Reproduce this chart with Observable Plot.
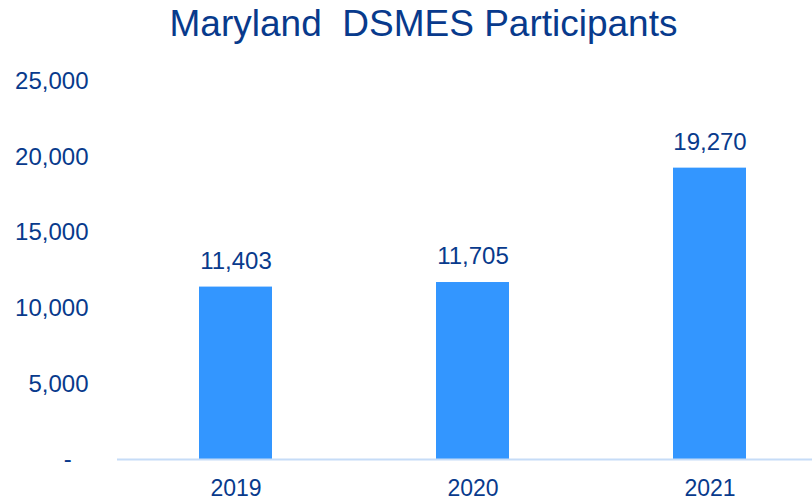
<!DOCTYPE html>
<html>
<head>
<meta charset="utf-8">
<script src="https://cdn.jsdelivr.net/npm/d3@7"></script>
<script src="https://cdn.jsdelivr.net/npm/@observablehq/plot@0.6"></script>
<style>
  html, body { margin: 0; padding: 0; background: #fff; }
  #wrap { width: 812px; height: 500px; position: relative; overflow: hidden; font-family: "Liberation Sans", Arial, sans-serif; }
  #title { position: absolute; left: 0; top: 1px; width: 847px; text-align: center; font-size: 37px; color: #083a8c; line-height: 46px; white-space: pre; }
  #chart { position: absolute; left: 0; top: 58px; }
</style>
</head>
<body>
<div id="wrap">
  <div id="title">Maryland  DSMES Participants</div>
  <div id="chart"></div>
</div>
<script>
const years = ["2019", "2020", "2021"];
const participants = [11403, 11705, 19270];
const yTicks = [0, 5000, 10000, 15000, 20000, 25000];

const data = years.map((y, i) => ({year: y, value: participants[i]}));
const fmt = d3.format(",");
const textColor = "#083a8c";

const plot = Plot.plot({
  width: 812,
  height: 442,
  marginTop: 23,
  marginBottom: 41,
  marginLeft: 117,
  marginRight: 0,
  style: {fontFamily: "'Liberation Sans', Arial, sans-serif", color: textColor, background: "transparent"},
  x: {domain: years, range: [117, 828], paddingInner: 0.69, paddingOuter: 0.345, label: null},
  y: {domain: [0, 25000], label: null},
  marks: [
    Plot.barY(data, {x: "year", y: "value", fill: "#3396ff"}),
    Plot.ruleY([0], {stroke: "#c6dcf7", strokeWidth: 2}),
    Plot.text(data, {x: "year", y: "value", text: d => fmt(d.value), dy: -26, fill: textColor, fontSize: 24}),
    Plot.axisY({ticks: yTicks, tickSize: 0, tickPadding: 29, fontSize: 24, fill: textColor,
      tickFormat: d => d === 0 ? "-\u2002\u2009" : fmt(d)}),
    Plot.axisX({tickSize: 0, tickPadding: 20, fontSize: 23, fill: textColor})
  ]
});
document.getElementById("chart").appendChild(plot);
</script>
</body>
</html>
